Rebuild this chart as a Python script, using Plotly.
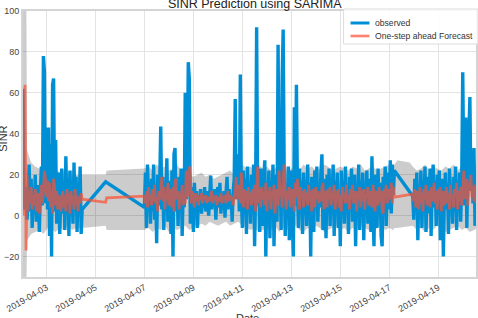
import pandas as pd
import plotly.graph_objects as go

# ---------------- data ----------------
seg1_start = "2019-04-02 01:00"
seg1_obs = [62, 8, 3, 14, -2, 10, 25, 2, 18, -6, 12, 4, 20, -3, 9, 15, -8, 11, 24, 5,
            78, 70, 6, 43, 3, 43, -10, 35, -20, 64, 67, 2, 37, -4, 14, 21, -9, 8, 23, 1,
            15, -7, 29, 4, 18, -10, 22, 6, 13, -4, 26, 2, 19, -8, 16, 5, 24, -9, 3]
seg1_fc = [0, 30, 64, -17, 20, 2, 12, 6, 14, 3, 10, 5, 13, 2, 9, 11, 1, 8, 15, 6,
           12, 22, 18, 9, 17, 7, 16, 4, 12, 1, 18, 14, 5, 12, 3, 10, 9, 2, 8, 12,
           4, 10, 2, 13, 6, 11, 1, 12, 7, 9, 3, 13, 5, 10, 2, 9, 6, 11, 8]

gap1_obs_time = ["2019-04-05 10:00"]
gap1_obs = [16.5]
gap1_fc_time = ["2019-04-05 10:00", "2019-04-05 11:00"]
gap1_fc = [6.5, 8.7]

seg2_start = "2019-04-07 00:00"
seg2_obs = [4, 21, -6, 25, 8, 14, -4, 18, 2, 25,
            -2, 12, -13.5, 20, 5, 16, 43.5, 3, 19, -7,
            14, 6, 28, -3, 17, 10, -9, 22, -20, 30,
            33, 2, 15, -5, 19, 7, 23, -10, 12, 4,
            60, 8, 18, 75, 67, -4, 14, 9, -8, 16,
            3, 12, -6, 10, 5, 13, 1, 11, 4, 14,
            2, 9, 12, 0, 10, 19.6, 3, 11, 6, 13,
            -2, 9, 14, 4, 16, 1, 10, 7, 12, -1,
            11, 19, 3, 13, 6, 10, -3, 12, 18, 57,
            8, 15, 30, 2, 69, 10, -6, 22, 4, 18,
            -9, 24, 6, 14, -4, 20, 1, 25, -15, 12,
            92, 5, 19, -8, 23, 3, -5, 18, 27, -20,
            14, 4, 22, -11, 17, 7, 25, -15, 10, 20,
            -3, 83.5, 10, 21, -7, 67, 91, 20, -10, 16,
            5, 24, -12, 13, 22, -4, -20, 53, 5, 64,
            12, -6, 23, 3, 17, -9, 21, 8, 14, -5,
            25, 2, 16, -20, 19, 6, -8, 22, 10, 24,
            -3, 15, 4, 21, 30, -7, 13, 18, -11, 20,
            6, 23, -5, 14, 9, 25, -10, 17, 3, 21,
            -6, 12, -15, 22, 7, 16, -4, 24, 2, 13,
            -9, 19, 5, 23, -3, 11, 20, -15, 14, 6,
            25, -7, 17, 3, 21, -12, 15, 8, 22, -4,
            12, 18, -8, 29, 4, -15, 20, 10, -6, 23,
            2, 16, -10, -15, 19, 7, 24, -5, 13, 21,
            3, 27, 1, 25, 10, 22]
seg2_fc = [9.5, 6, 12, 4, 14, 8, 10, 5, 13, 7,
           15, 6, 9, 2, 12, 8, 11, 19, 7, 14,
           3, 11, 8, 16, 5, 13, 9, 4, 14, 2,
           17, 18, 8, 12, 3, 11, 7, 15, 5, 10,
           6, 22, 9, 13, 24, 19, 6, 12, 8, 4,
           11, 7, 10, 5, 9, 8, 11, 6, 9, 8,
           10, 6, 9, 8, 7, 10, 12, 6, 9, 8,
           10, 5, 8, 9, 7, 11, 6, 9, 8, 10,
           6, 9, 12, 7, 10, 8, 9, 5, 10, 11,
           19, 8, 10, 15, 6, 21, 9, 4, 13, 7,
           12, 3, 14, 8, 11, 5, 13, 7, 15, 2,
           10, 24, 6, 13, 4, 14, 8, 11, 5, 16,
           2, 12, 8, 14, 3, 11, 9, 15, 1, 10,
           13, 5, 22, 9, 14, 4, 19, 25, 11, 3,
           12, 8, 14, 4, 11, 13, 6, 2, 16, 9,
           18, 7, 3, 14, 9, 12, 4, 13, 8, 11,
           5, 15, 7, 12, 2, 13, 9, 4, 14, 8,
           12, 6, 11, 7, 14, 16, 3, 10, 12, 4,
           13, 8, 14, 5, 11, 9, 15, 3, 12, 8,
           13, 4, 10, 2, 14, 8, 11, 6, 15, 7,
           10, 3, 13, 8, 15, 6, 9, 12, 2, 11,
           8, 14, 4, 12, 7, 13, 3, 10, 9, 14,
           5, 10, 12, 4, 15, 11, 2, 12, 9, 5,
           14, 7, 12, 3, 1, 13, 9, 15, 6, 10,
           13, 8, 16, 6, 14, 9]

seg3_start = "2019-04-17 23:00"
seg3_obs = [9.5, -2, 18, 5, 21, -12, 14, 3, 22, -6,
            16, 8, 24, -8, 12, 19, 1, 23, -10, 15,
            25, 4, 17, -5, 20, 7, 22, -12, 13, 18,
            -20, 10, 21, 3, 16, -9, 23, 6, 14, -4,
            19, 2, 24, -7, 15, 9, 21, -3, 17, 70,
            20, 5, 48, -6, 22, 39, 58, 12, 29, 6,
            33, -5, 18]
seg3_fc = [10.5, 7, 13, 4, 12, 9, 3, 14, 6, 11,
           2, 13, 8, 15, 5, 10, 12, 4, 14, 7,
           11, 16, 6, 12, 3, 13, 9, 14, 2, 11,
           12, 5, 8, 14, 6, 11, 3, 15, 8, 10,
           4, 13, 9, 16, 3, 12, 7, 14, 5, 12,
           22, 8, 14, 18, 5, 13, 16, 20, 9, 14,
           7, 15, 6]

# confidence band
band1_time = ["2019-04-02 01:00", "2019-04-02 04:00", "2019-04-02 05:00", "2019-04-02 09:00",
              "2019-04-02 13:00", "2019-04-02 17:00", "2019-04-02 21:00", "2019-04-03 01:00",
              "2019-04-03 05:00", "2019-04-03 09:00", "2019-04-03 13:00", "2019-04-03 17:00",
              "2019-04-03 21:00", "2019-04-04 01:00", "2019-04-04 05:00", "2019-04-04 11:00",
              "2019-04-05 10:00", "2019-04-05 11:00"]
band1_lo = [-45, -45, -12, -9, -8, -7, -9, -6, -7, -8, -6, -7, -5, -7, -6, -6, -5, -7]
band1_hi = [130, 130, 32, 26, 24, 23, 25, 24, 22, 23, 21, 22, 21, 22, 20, 20, 20, 22]
band2_start = "2019-04-07 00:00"
band2_lo = [-7, -6, -8, -6, -7, -5, -8, -6, -7, -6, -5, -7, -6, -5, -4, -5, -3, -4, -5, -4,
            -3, -5, -4, -3, -5, -6, -7, -6, -8, -7, -6, -7, -5, -8, -6, -7, -6, -5, -7, -8,
            -6, -7, -5, -6, -8, -7, -6, -5, -7, -6, -8, -6, -7, -5, -6, -7, -8, -6, -5, -7,
            -6, -7]
band2_hi = [23, 24, 22, 25, 23, 24, 22, 23, 25, 22, 21, 20, 19, 20, 21, 19, 20, 18, 19, 20,
            21, 22, 20, 24, 25, 23, 24, 22, 25, 23, 24, 22, 23, 25, 24, 22, 23, 24, 22, 25,
            23, 24, 22, 23, 25, 24, 22, 23, 24, 23, 22, 24, 23, 25, 22, 23, 24, 22, 23, 24,
            25, 24]
gap2_band_time = ["2019-04-17 05:00", "2019-04-17 08:00", "2019-04-17 20:00"]
gap2_lo = [-6, -6, -5]
gap2_hi = [25, 27, 26]
band3_start = "2019-04-17 23:00"
band3_lo = [-5, -7, -6, -8, -6, -7, -5, -6, -8, -7, -6, -5, -7, -6, -8, -7, -6]
band3_hi = [24, 22, 23, 25, 22, 24, 23, 22, 24, 23, 25, 22, 24, 26, 28, 27, 24]

legend_labels = ["observed", "One-step ahead Forecast"]

# ---------------- build ----------------
def hourly(start, n):
    return list(pd.date_range(start, periods=n, freq="h"))

def four_hourly(start, n):
    return list(pd.date_range(start, periods=n, freq="4h"))

obs_x = hourly(seg1_start, len(seg1_obs)) + list(pd.to_datetime(gap1_obs_time)) + \
    hourly(seg2_start, len(seg2_obs)) + hourly(seg3_start, len(seg3_obs))
obs_y = seg1_obs + gap1_obs + seg2_obs + seg3_obs

fc_x = hourly(seg1_start, len(seg1_fc)) + list(pd.to_datetime(gap1_fc_time)) + \
    hourly(seg2_start, len(seg2_fc)) + hourly(seg3_start, len(seg3_fc))
fc_y = seg1_fc + gap1_fc + seg2_fc + seg3_fc

band_x = list(pd.to_datetime(band1_time)) + four_hourly(band2_start, len(band2_lo)) + \
    list(pd.to_datetime(gap2_band_time)) + four_hourly(band3_start, len(band3_lo))
band_lo = band1_lo + band2_lo + gap2_lo + band3_lo
band_hi = band1_hi + band2_hi + gap2_hi + band3_hi

BLUE = "#008fd5"
RED = "rgba(252,79,48,0.7)"

fig = go.Figure()
fig.add_trace(go.Scatter(x=band_x, y=band_lo, mode="lines", line=dict(width=0),
                         showlegend=False, hoverinfo="skip"))
fig.add_trace(go.Scatter(x=band_x, y=band_hi, mode="lines", line=dict(width=0),
                         fill="tonexty", fillcolor="rgba(0,0,0,0.2)",
                         showlegend=False, hoverinfo="skip"))
fig.add_trace(go.Scatter(x=obs_x, y=obs_y, mode="lines", name=legend_labels[0],
                         showlegend=False,
                         line=dict(color=BLUE, width=3.4, simplify=False)))
fig.add_trace(go.Scatter(x=fc_x, y=fc_y, mode="lines", name=legend_labels[1],
                         showlegend=False,
                         line=dict(color=RED, width=2.8, simplify=False)))

font = "Liberation Sans, Arial, sans-serif"
# plot area in pixels: x 23..478, y 11..277
L, R, T, B = 23, 478, 11, 277
def px(xp):
    return (xp - L) / (R - L)
def py(yp):
    return (B - yp) / (B - T)

fig.update_layout(
    width=478, height=318,
    margin=dict(l=L, r=478 - R, t=T, b=318 - B),
    paper_bgcolor="white", plot_bgcolor="white",
    font=dict(family=font, size=9, color="#444"),
    title=dict(text="SINR Prediction using SARIMA", xref="container", yref="container",
               x=0.533, xanchor="center", y=0.99, yanchor="middle",
               font=dict(family=font, size=12.5, color="#222")),
    showlegend=False,
)
fig.update_xaxes(range=["2019-04-02 01:00", "2019-04-20 13:00"],
                 tick0="2019-04-03", dtick=2 * 86400000, tickformat="%Y-%m-%d",
                 tickangle=-30, showgrid=True, gridcolor="#e3e3e3", gridwidth=1,
                 showline=True, linecolor="#d4d4d4", linewidth=2, mirror=True,
                 ticks="", zeroline=False, tickfont=dict(size=9, color="#444"))
fig.update_yaxes(range=[-30, 100], tickvals=[-20, 0, 20, 40, 60, 80, 100],
                 showgrid=True, gridcolor="#e3e3e3", gridwidth=1,
                 showline=True, linecolor="#d4d4d4", linewidth=2, mirror=True,
                 ticks="", zeroline=False, tickfont=dict(size=9, color="#444"))

# legend box
fig.add_shape(type="rect", xref="paper", yref="paper",
              x0=px(345), x1=px(480), y0=py(44), y1=py(9),
              fillcolor="rgba(255,255,255,0.85)", line=dict(color="#dddddd", width=1),
              layer="above")
for i, (lab, col, w) in enumerate(zip(legend_labels, [BLUE, RED], [3, 2.6])):
    yrow = 23 + 13 * i
    fig.add_shape(type="line", xref="paper", yref="paper",
                  x0=px(352), x1=px(371), y0=py(yrow), y1=py(yrow),
                  line=dict(color=col, width=w), layer="above")
    fig.add_annotation(text=lab, xref="paper", yref="paper", x=px(375), y=py(yrow),
                       xanchor="left", yanchor="middle", showarrow=False,
                       font=dict(family=font, size=8.6, color="#333"))

fig.add_annotation(text="Date", xref="paper", yref="paper", x=px(248), y=-0.125,
                   xanchor="center", yanchor="top", showarrow=False,
                   font=dict(family=font, size=11, color="#333"))
fig.add_annotation(text="SINR", xref="paper", yref="paper", x=px(3), y=0.52,
                   xanchor="center", yanchor="middle", textangle=-90, showarrow=False,
                   font=dict(family=font, size=11, color="#333"))

fig.write_html("out.html")
